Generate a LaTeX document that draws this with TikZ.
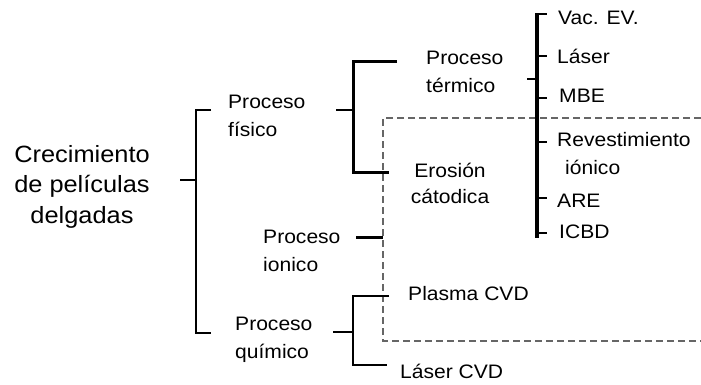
\documentclass[tikz,border=0pt]{standalone}
\usepackage{fontspec}
\setmainfont{Liberation Sans}[FakeStretch=1.08]
\usetikzlibrary{positioning,calc}

\tikzset{
  lbl/.style={inner sep=0pt, anchor=base west, align=left,
    font=\fontsize{19.5}{28}\selectfont},
  thinln/.style={line width=1.5pt},
  midln/.style={line width=2pt},
  thickln/.style={line width=3pt},
  boxln/.style={draw=black!60, line width=2pt, dash pattern=on 7pt off 4pt},
}

\begin{document}
\begin{tikzpicture}[x=1pt, y=-1pt]
  \useasboundingbox (0,0) rectangle (701,384);

  % Root text (base = last line)
  \node[lbl, anchor=base, align=center, font=\fontsize{23.5}{30.5}\selectfont]
    (crec) at (82,223) {Crecimiento\\de películas\\delgadas};

  % First level
  \node[lbl] (fisico)  at (228,136) {Proceso\\físico};
  \node[lbl] (ionico)  at (263,271) {Proceso\\ionico};
  \node[lbl] (quimico) at (235,358) {Proceso\\químico};

  % Second level
  \node[lbl] (termico) at (426,92)  {Proceso\\térmico};
  \node[lbl, anchor=base, align=center, font=\fontsize{19.5}{26}\selectfont]
    (erosion) at (450,203) {Erosión\\cátodica};
  \node[lbl] (plasma)  at (408,300) {Plasma CVD};
  \node[lbl] (lasercvd) at (400,378) {Láser CVD};

  % Methods
  \node[lbl] (vac)   at (558,24)  {Vac. EV.};
  \node[lbl] (laser) at (557,63)  {Láser};
  \node[lbl] (mbe)   at (559,102) {MBE};
  \node[lbl] (rev)   at (557,174) {Revestimiento\\\hspace*{8pt}iónico};
  \node[lbl] (are)   at (557,207) {ARE};
  \node[lbl] (icbd)  at (559,238) {ICBD};

  % Dashed frame (ionic processes)
  \draw[boxln] (701,118) -| (383,341) -- (701,341);

  % Bracket: crecimiento -> fisico / quimico
  \coordinate (c-in) at (180,180);
  \draw[thinln] (c-in) -- (196,180);
  \draw[thinln] (211,110) -- (196,110) -- (196,333) -- (211,333);

  % Bracket: fisico -> termico / erosion
  \draw[midln] (336,110) -- (353,110);
  \draw[thickln] (397,61) -- (353,61) -- (353,172) -- (389,172);

  % ionico
  \draw[thickln] (356,237) -- (383,237);

  % Bracket: quimico -> plasma / laser CVD
  \draw[midln] (333,332) -- (353,332);
  \draw[midln] (389,296) -- (353,296) -- (353,365) -- (387,365);

  % Bracket: termico -> methods
  \draw[thinln] (527,79) -- (537,79);
  \draw[line width=3.5pt] (537,13) -- (537,238);
  \foreach \yy in {14,56,98,142,198,233}
    \draw[midln] (537,\yy) -- (547,\yy);
\end{tikzpicture}
\end{document}
